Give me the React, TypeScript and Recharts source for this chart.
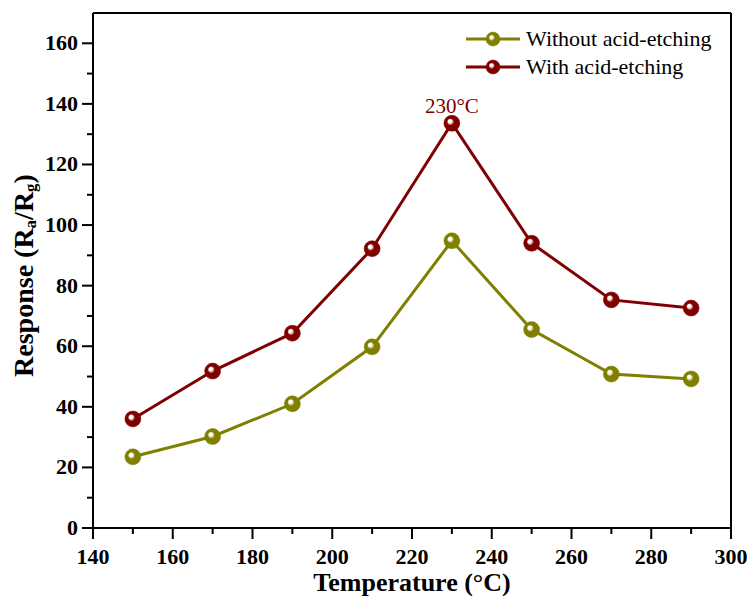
import React from "react";
import {
  LineChart,
  Line,
  XAxis,
  YAxis,
  ReferenceLine,
  ReferenceDot,
  Label,
} from "recharts";

const temps = [150, 170, 190, 210, 230, 250, 270, 290];
const withoutEtching = [23.5, 30.2, 41.0, 59.8, 94.8, 65.5, 50.8, 49.2];
const withEtching = [36.0, 51.8, 64.3, 92.2, 133.6, 94.0, 75.3, 72.6];
const xTicks = [140, 150, 160, 170, 180, 190, 200, 210, 220, 230, 240, 250, 260, 270, 280, 290, 300];
const yTicks = [0, 10, 20, 30, 40, 50, 60, 70, 80, 90, 100, 110, 120, 130, 140, 150, 160];
const peakLabel = "230°C";

const FONT = '"Liberation Serif", "Times New Roman", serif';
const OLIVE = "#808000";
const RED = "#800000";

const series = [
  { key: "without", name: "Without acid-etching", color: OLIVE, grad: "ballOlive" },
  { key: "with", name: "With acid-etching", color: RED, grad: "ballRed" },
];

const rows = temps.map((t, i) => ({ temp: t, without: withoutEtching[i], with: withEtching[i] }));

const peakIdx = withEtching.indexOf(Math.max(...withEtching));

const Ball = ({ cx, cy, grad, color, r = 8 }: any) => {
  if (cx == null || cy == null) return null;
  return <circle cx={cx} cy={cy} r={r} fill={`url(#${grad})`} stroke={color} strokeWidth={0.5} />;
};

const BallDefs = () => (
  <defs>
    {series.map((s) => (
      <radialGradient key={s.grad} id={s.grad} cx="50%" cy="50%" r="50%" fx="35%" fy="35%">
        <stop offset="0%" stopColor="#ffffff" />
        <stop offset="22%" stopColor="#ffffff" stopOpacity={0.9} />
        <stop offset="45%" stopColor={s.color} />
        <stop offset="100%" stopColor={s.color} />
      </radialGradient>
    ))}
  </defs>
);

const YTick = (props: any) => {
  const { x, y, payload } = props;
  const major = payload.value % 20 === 0;
  return (
    <g>
      <line x1={x - (major ? 11 : 6)} x2={x} y1={y} y2={y} stroke="#000" strokeWidth={2} />
      {major && (
        <text x={x - 15} y={y} dy={7} textAnchor="end" fontFamily={FONT} fontWeight="bold" fontSize={22} fill="#000">
          {payload.value}
        </text>
      )}
    </g>
  );
};

const XTick = (props: any) => {
  const { x, y, payload } = props;
  const major = payload.value % 20 === 0;
  return (
    <g>
      <line x1={x} x2={x} y1={y} y2={y + (major ? 11 : 6)} stroke="#000" strokeWidth={2} />
      {major && (
        <text x={x} y={y + 36} textAnchor="middle" fontFamily={FONT} fontWeight="bold" fontSize={22} fill="#000">
          {payload.value}
        </text>
      )}
    </g>
  );
};

const YTitle = (props: any) => {
  const vb = props.viewBox || {};
  const cx = 23;
  const cy = (vb.y ?? 13) + (vb.height ?? 515) / 2 + 5;
  return (
    <text
      x={cx}
      y={cy}
      transform={`rotate(-90, ${cx}, ${cy})`}
      textAnchor="middle"
      dominantBaseline="central"
      fontFamily={FONT}
      fontWeight="bold"
      fontSize={28}
      fill="#000"
    >
      Response (R
      <tspan fontSize={17} dy={7}>a</tspan>
      <tspan dy={-7}>/R</tspan>
      <tspan fontSize={17} dy={7}>g</tspan>
      <tspan dy={-7}>)</tspan>
    </text>
  );
};

const LegendBox = () => (
  <div style={{ position: "absolute", left: 466, top: 25, fontFamily: FONT, fontSize: 22, color: "#000" }}>
    {series.map((s) => (
      <div key={s.key} style={{ display: "flex", alignItems: "center", height: 28 }}>
        <svg width={54} height={20} style={{ marginRight: 6 }}>
          <BallDefs />
          <line x1={0} x2={54} y1={10} y2={10} stroke={s.color} strokeWidth={3} />
          <Ball cx={27} cy={10} grad={s.grad} color={s.color} r={7} />
        </svg>
        <span style={{ lineHeight: "28px", whiteSpace: "nowrap" }}>{s.name}</span>
      </div>
    ))}
  </div>
);

export default function App() {
  return (
    <div style={{ position: "absolute", left: 0, top: 0, width: 751, height: 596, background: "#fff" }}>
      <LineChart width={751} height={596} data={rows} margin={{ top: 13, right: 20, bottom: 0, left: 0 }}>
        <BallDefs />
        <XAxis
          dataKey="temp"
          type="number"
          domain={[140, 300]}
          ticks={xTicks}
          interval={0}
          height={68}
          tickSize={0}
          tickMargin={0}
          tickLine={false}
          tick={<XTick />}
          axisLine={{ stroke: "#000", strokeWidth: 2 }}
        >
          <Label
            content={(p: any) => {
              const vb = p.viewBox || {};
              return (
                <text
                  x={(vb.x ?? 93) + (vb.width ?? 638) / 2}
                  y={(vb.y ?? 528) + 63}
                  textAnchor="middle"
                  fontFamily={FONT}
                  fontWeight="bold"
                  fontSize={26}
                  fill="#000"
                >
                  Temperature (°C)
                </text>
              );
            }}
          />
        </XAxis>
        <YAxis
          type="number"
          domain={[0, 170]}
          ticks={yTicks}
          interval={0}
          width={93}
          tickSize={0}
          tickMargin={0}
          tickLine={false}
          tick={<YTick />}
          axisLine={{ stroke: "#000", strokeWidth: 2 }}
        >
          <Label content={<YTitle />} />
        </YAxis>
        <ReferenceLine y={170} stroke="#000" strokeWidth={2} />
        <ReferenceLine x={300} stroke="#000" strokeWidth={2} />
        {series.map((s) => (
          <Line
            key={s.key}
            dataKey={s.key}
            name={s.name}
            type="linear"
            stroke={s.color}
            strokeWidth={3}
            isAnimationActive={false}
            dot={(p: any) => <Ball key={`${s.key}-${p.index}`} cx={p.cx} cy={p.cy} grad={s.grad} color={s.color} />}
            activeDot={false}
          />
        ))}
        <ReferenceDot
          x={temps[peakIdx]}
          y={withEtching[peakIdx]}
          r={0}
          stroke="none"
          fill="none"
          label={{ value: peakLabel, position: "top", offset: 10, fill: RED, fontFamily: FONT, fontSize: 21 }}
        />
      </LineChart>
      <LegendBox />
    </div>
  );
}
